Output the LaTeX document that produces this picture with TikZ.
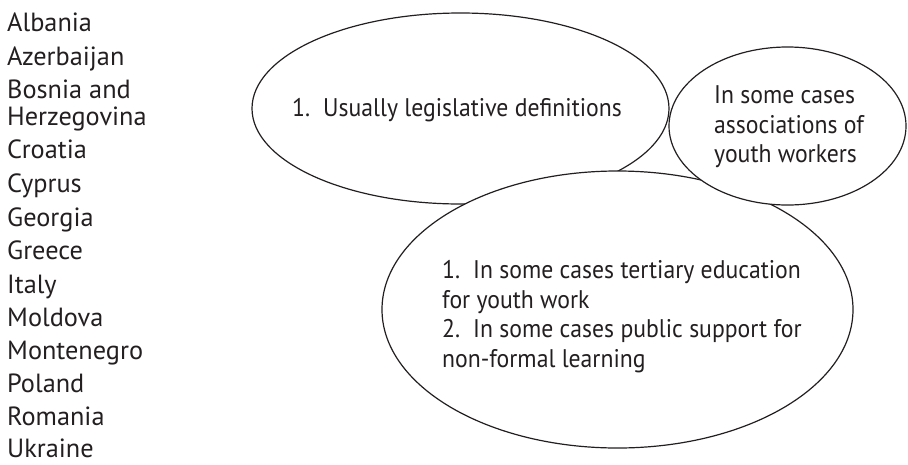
\documentclass[tikz,border=0pt]{standalone}
\usepackage{fontspec}
\setmainfont{PT Sans}
\newfontfamily\narrowfont[FakeStretch=0.93]{PT Sans}
\definecolor{ink}{HTML}{231F20}
\tikzset{
    bubble/.style={draw=ink, line width=1.2pt, fill=white},
    country/.style={anchor=base west, inner sep=0pt, text depth=0pt, text=ink, align=left, font=\fontsize{26.3}{27}\selectfont},
    note/.style={anchor=west, inner sep=0pt, text=ink, align=left, font=\narrowfont\fontsize{25.5}{29.5}\selectfont},
}
\begin{document}
\begin{tikzpicture}[x=1pt, y=-1pt]
        \useasboundingbox (0,0) rectangle (908,464);

        \foreach \country/\y [count=\k] in {Albania/31, Azerbaijan/65, {Bosnia and\\Herzegovina}/125, Croatia/158.5, Cyprus/192.5, Georgia/226, Greece/259.5, Italy/293, Moldova/326.5, Montenegro/359.5, Poland/392.5, Romania/425, Ukraine/457}
            \node[country] (c\k) at (7,\y) {\country};

        \draw[bubble] (460.5,108.5) ellipse [x radius=208.5, y radius=95.5];
        \draw[bubble] (617.5,309.5) ellipse [x radius=235.5, y radius=138.5];
        \draw[bubble] (787.5,126) ellipse [x radius=118.5, y radius=79];

        \node[note] (legal) at (292,110.5) {1.\hspace{13pt}Usually legislative definitions};
        \node[note] (assoc) at (714,127) {In some cases\\associations of\\youth workers};
        \node[note] (study) at (442,316.5) {1.\hspace{13pt}In some cases tertiary education\\for youth work\\2.\hspace{13pt}In some cases public support for\\non-formal learning};
    \end{tikzpicture}
\end{document}
